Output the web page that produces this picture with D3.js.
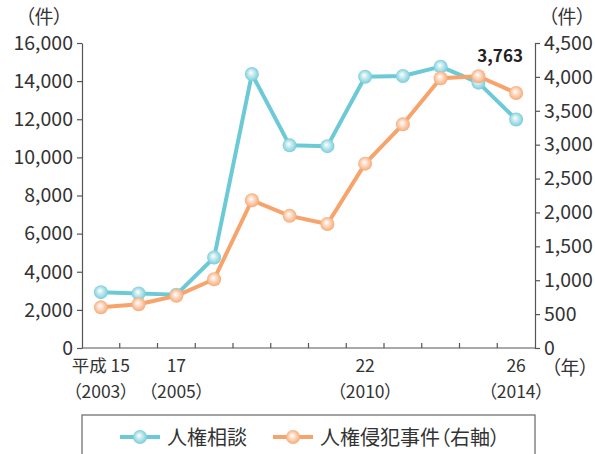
<!DOCTYPE html>
<html>
<head>
<meta charset="utf-8">
<script src="https://cdn.jsdelivr.net/npm/d3@7"></script>
<style>
  body { margin: 0; background: #fff; }
  svg { display: block; font-family: "Noto Sans CJK JP", "Noto Sans", sans-serif; font-feature-settings: "palt"; }
  .axis path, .axis line { stroke: #555; stroke-width: 1.2; }
  .axis text { fill: #333; font-size: 19.5px; font-family: "Noto Sans CJK JP", sans-serif; }
  text { fill: #333; }
</style>
</head>
<body>
<svg></svg>
<script>
var width = 595;
var height = 454;

var margin = { left: 82, right: 60, top: 43, bottom: 106 };

// data
var years = [2003, 2004, 2005, 2006, 2007, 2008, 2009, 2010, 2011, 2012, 2013, 2014];
var soudan = [2930, 2860, 2800, 4750, 14370, 10630, 10590, 14230, 14270, 14760, 13920, 11990];
var shinpan = [600, 645, 770, 1015, 2180, 1950, 1830, 2720, 3300, 3980, 4010, 3763];
var leftTicks = [0, 2000, 4000, 6000, 8000, 10000, 12000, 14000, 16000];
var rightTicks = [0, 500, 1000, 1500, 2000, 2500, 3000, 3500, 4000, 4500];
var xLabels = [
  { year: 2003, top: "平成 15", bottom: "（2003）" },
  { year: 2005, top: "17", bottom: "（2005）" },
  { year: 2010, top: "22", bottom: "（2010）" },
  { year: 2014, top: "26", bottom: "（2014）" }
];
var seriesNames = ["人権相談", "人権侵犯事件（右軸）"];
var colours = ["#6ccad6", "#f7a46c"];

var svg = d3.select("svg")
  .attr("width", width)
  .attr("height", height);

var x = d3.scaleBand()
  .domain(years)
  .range([margin.left, width - margin.right]);

var yL = d3.scaleLinear()
  .domain([0, 16000])
  .range([height - margin.bottom, margin.top]);

var yR = d3.scaleLinear()
  .domain([0, 4500])
  .range([height - margin.bottom, margin.top]);

// gradients for the ball markers
var defs = svg.append("defs");
colours.forEach(function(c, i){
  var g = defs.append("radialGradient")
    .attr("id", "ball" + i)
    .attr("cx", "50%").attr("cy", "50%").attr("r", "55%")
    .attr("fx", "42%").attr("fy", "38%");
  g.append("stop").attr("offset", "0%").attr("stop-color", "#ffffff");
  g.append("stop").attr("offset", "35%").attr("stop-color", d3.interpolateRgb("#fff", c)(0.35));
  g.append("stop").attr("offset", "100%").attr("stop-color", c);
});

// left axis
svg.append("g")
  .attr("class", "axis")
  .attr("transform", "translate(" + margin.left + ",0)")
  .call(d3.axisLeft(yL).tickValues(leftTicks).tickSize(5).tickSizeOuter(0).tickPadding(4).tickFormat(d3.format(",")));

// right axis
svg.append("g")
  .attr("class", "axis")
  .attr("transform", "translate(" + (width - margin.right) + ",0)")
  .call(d3.axisRight(yR).tickValues(rightTicks).tickSize(5).tickSizeOuter(0).tickPadding(4).tickFormat(d3.format(",")));

// x axis baseline with inward ticks at band boundaries
var xAxis = svg.append("g").attr("class", "axis");
xAxis.append("line")
  .attr("x1", margin.left).attr("x2", width - margin.right)
  .attr("y1", yL(0)).attr("y2", yL(0));
xAxis.selectAll("line.tick")
  .data(years.slice(1))
  .enter()
  .append("line")
  .attr("class", "tick")
  .attr("x1", function(d){ return x(d); })
  .attr("x2", function(d){ return x(d); })
  .attr("y1", yL(0)).attr("y2", yL(0) - 5);

var xl = svg.append("g").selectAll("g")
  .data(xLabels)
  .enter()
  .append("g")
  .attr("transform", function(d){ return "translate(" + (x(d.year) + x.bandwidth() / 2) + ",0)"; });
xl.append("text")
  .attr("y", 372)
  .attr("text-anchor", "middle")
  .style("font-size", "17.5px")
  .text(function(d){ return d.top; });
xl.append("text")
  .attr("y", 398)
  .attr("text-anchor", "middle")
  .style("font-size", "17.5px")
  .text(function(d){ return d.bottom; });

// units
svg.append("text").attr("x", 44).attr("y", 24).attr("text-anchor", "middle")
  .style("font-size", "19px").text("（件）");
svg.append("text").attr("x", 567).attr("y", 24).attr("text-anchor", "middle")
  .style("font-size", "19px").text("（件）");
svg.append("text").attr("x", 570).attr("y", 375).attr("text-anchor", "middle")
  .style("font-size", "19px").text("（年）");

// lines
var cx = function(d, i){ return x(years[i]) + x.bandwidth() / 2; };

function drawSeries(vals, scale, idx){
  var line = d3.line()
    .x(function(d, i){ return cx(d, i); })
    .y(function(d){ return scale(d); });
  svg.append("path")
    .datum(vals)
    .attr("d", line)
    .attr("fill", "none")
    .attr("stroke", colours[idx])
    .attr("stroke-width", 4)
    .attr("stroke-linejoin", "round");
  svg.append("g").selectAll("circle")
    .data(vals)
    .enter()
    .append("circle")
    .attr("cx", function(d, i){ return cx(d, i); })
    .attr("cy", function(d){ return scale(d); })
    .attr("r", 7)
    .attr("fill", "url(#ball" + idx + ")");
}

drawSeries(soudan, yL, 0);
drawSeries(shinpan, yR, 1);

// last value label
svg.append("text")
  .attr("x", cx(null, years.length - 1) - 16)
  .attr("y", 62)
  .attr("text-anchor", "middle")
  .style("font-size", "17px")
  .style("font-weight", "bold")
  .style("fill", "#222")
  .text(d3.format(",")(shinpan[shinpan.length - 1]));

// legend
var legend = svg.append("g");
legend.append("rect")
  .attr("x", margin.left).attr("y", 415)
  .attr("width", width - margin.right - margin.left).attr("height", 60)
  .attr("fill", "none").attr("stroke", "#666").attr("stroke-width", 1.2);

var legendX = [120, 273];
var lg = legend.selectAll("g.item")
  .data(seriesNames)
  .enter()
  .append("g")
  .attr("class", "item")
  .attr("transform", function(d, i){ return "translate(" + legendX[i] + ",437)"; });
lg.append("line")
  .attr("x1", 0).attr("x2", 40)
  .attr("stroke", function(d, i){ return colours[i]; })
  .attr("stroke-width", 4);
lg.append("circle")
  .attr("cx", 20).attr("r", 7)
  .attr("fill", function(d, i){ return "url(#ball" + i + ")"; });
lg.append("text")
  .attr("x", 47).attr("y", 8)
  .style("font-size", "20px")
  .text(function(d){ return d; });
</script>
</body>
</html>
